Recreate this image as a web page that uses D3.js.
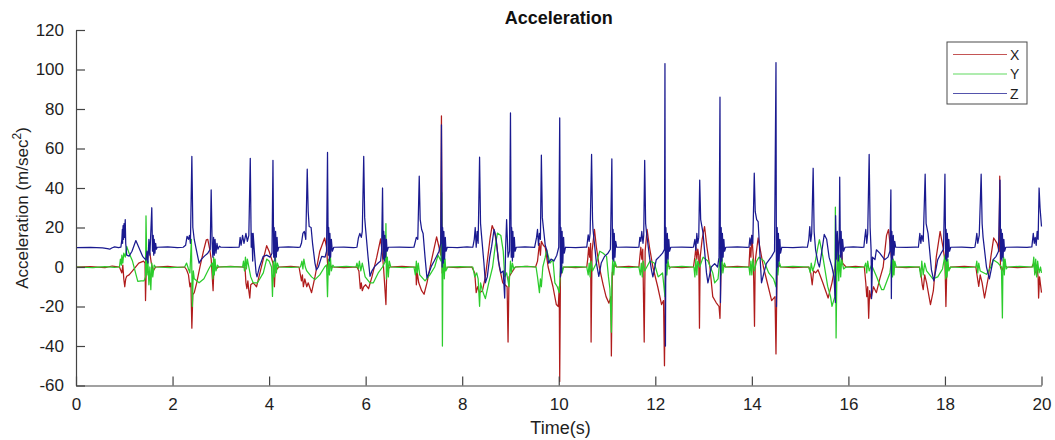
<!DOCTYPE html>
<html>
<head>
<meta charset="utf-8">
<script src="https://cdn.jsdelivr.net/npm/d3@7"></script>
<style>
    body { margin: 0; background: #fff; }
    #chart { width: 1055px; height: 440px; }
    text { font-family: "Liberation Sans", Arial, Helvetica, sans-serif; }
</style>
</head>
<body>
<div id="chart"></div>
<script>
// Acceleration signals (time in s, value in m/sec^2)
const accX = [
    [0,0],[0.3,0.2],[0.6,-0.3],[0.75,0.5],[0.9,0],
    [0.95,-3],[0.97,1],[0.99,-6],[1.01,-10],[1.03,-6],[1.05,-4.7],[1.1,-4],[1.17,-2],[1.3,2],[1.4,3],[1.43,2],[1.44,-17],[1.46,4],[1.5,8],[1.53,7],[1.56,2],[1.6,-2],[1.65,0],
    [1.9,0.3],[2.1,-0.2],[2.25,0],
    [2.29,-1.4],[2.33,-4],[2.36,-10],[2.38,-8],[2.4,-31],[2.42,-14],[2.45,-13],[2.5,-8],[2.57,0.3],[2.64,8],[2.7,13.8],[2.73,14],[2.77,9],[2.8,4],[2.84,-12],[2.86,2],[2.9,-1],[2.95,0],
    [3.2,0.3],[3.45,0],
    [3.5,0],[3.52,-8],[3.54,-11],[3.56,-7],[3.58,-12],[3.6,-15.7],[3.62,-9],[3.67,-8],[3.74,-10],[3.81,-3],[3.88,4],[3.95,10.8],[4.0,8],[4.04,5],[4.08,2],[4.11,-10],[4.13,1],[4.17,-1],[4.2,0],
    [4.45,0.3],[4.62,0],
    [4.67,-7],[4.69,-4],[4.71,-10],[4.74,-6],[4.78,-10],[4.81,-8],[4.88,-13],[4.95,-5],[5.05,8],[5.15,14.7],[5.19,10],[5.21,2],[5.23,-3],[5.26,1],[5.3,0],
    [5.55,-0.3],[5.82,0],
    [5.86,-2],[5.89,-11],[5.91,-8],[5.93,-12],[5.96,-10],[6.0,-9],[6.06,-11],[6.13,-5],[6.23,5],[6.31,14.2],[6.34,8],[6.37,0],[6.42,-19],[6.44,1],[6.47,-1],[6.5,0],
    [6.75,0.3],[7.0,0],
    [7.04,0],[7.05,-9],[7.07,-3],[7.1,-8],[7.16,-12],[7.21,-13.8],[7.27,-8],[7.36,3],[7.47,15.2],[7.52,10],[7.555,6],[7.57,76.5],[7.585,-3],[7.6,2],[7.65,0],
    [7.9,-0.3],[8.2,0],
    [8.26,-3],[8.29,-13],[8.32,-10],[8.36,-13],[8.42,-12],[8.48,-5],[8.58,15],[8.62,21],[8.67,18],[8.71,12],[8.77,0],[8.84,-8],[8.93,-10],[8.95,-38],[8.97,-5],[9.02,-3],[9.1,0],
    [9.35,0.3],[9.52,0],
    [9.56,3],[9.6,12],[9.62,6],[9.64,13],[9.68,11],[9.72,10],[9.78,0],[9.88,-10],[9.95,-19],[9.99,-20],[10.01,-10],[10.02,-58],[10.035,-5],[10.06,-2],[10.1,0],
    [10.35,-0.3],[10.58,0],
    [10.6,4],[10.62,10],[10.64,5],[10.66,12],[10.67,-38],[10.69,8],[10.74,19],[10.78,10],[10.84,0],[10.92,-9],[10.98,-15],[11.04,-18.3],[11.08,-15],[11.09,-45],[11.11,-3],[11.15,1],[11.2,0],
    [11.45,0.3],[11.66,0],
    [11.68,5],[11.7,10],[11.72,4],[11.74,9],[11.77,-38],[11.79,8],[11.83,19],[11.88,10],[11.95,0],[12.05,-10],[12.13,-19],[12.17,-17],[12.19,-50],[12.21,-5],[12.25,1],[12.3,0],
    [12.55,-0.3],[12.79,0],
    [12.82,5],[12.84,10],[12.86,4],[12.88,9],[12.9,6],[12.915,-31],[12.93,5],[12.97,14],[13.02,20.5],[13.07,10],[13.13,0],[13.19,-15],[13.26,-18],[13.32,-20],[13.34,-26],[13.36,-3],[13.4,1],[13.45,0],
    [13.7,0.3],[13.94,0],
    [13.96,10],[13.98,5],[14.0,16],[14.03,5],[14.055,-30],[14.07,3],[14.13,14.7],[14.18,8],[14.24,0],[14.34,-10],[14.41,-17],[14.48,-15],[14.5,-44],[14.52,-4],[14.56,1],[14.6,0],
    [14.85,-0.3],[15.18,0],
    [15.22,-3],[15.25,-9],[15.28,-2],[15.32,-3],[15.37,-1.4],[15.47,-8],[15.58,-15.7],[15.66,-8],[15.72,0],[15.78,10],[15.83,15],[15.88,2],[15.95,0],
    [16.15,0.3],[16.33,0],
    [16.36,-8],[16.38,-15],[16.4,-10],[16.42,-26],[16.44,-12],[16.47,-16],[16.52,-10],[16.58,-13],[16.65,-6],[16.72,0],[16.79,16],[16.83,18.9],[16.87,10],[16.89,5],[16.92,1],[16.96,0],
    [17.2,-0.3],[17.47,0],
    [17.5,-3],[17.53,-9],[17.55,-11.5],[17.58,-4],[17.62,-8],[17.7,-19],[17.76,-12],[17.82,5],[17.9,18],[17.96,10],[18.0,3],[18.02,-20],[18.04,0],[18.08,-1],[18.12,0],
    [18.4,0.3],[18.64,0],
    [18.67,-5],[18.7,-9.8],[18.73,-4],[18.77,-8],[18.82,-15.7],[18.9,-5],[18.95,5],[19.01,14.7],[19.08,12],[19.12,8],[19.135,46],[19.15,0],[19.18,-2],[19.22,1],[19.28,0],
    [19.5,-0.3],[19.8,0],
    [19.84,2],[19.87,-3],[19.9,1],[19.93,-5],[19.94,-15.7],[19.96,-5],[19.98,-9],[20.0,-13]
];

const accY = [
    [0,0],[0.35,-0.3],[0.6,0.2],[0.8,-0.2],[0.9,0],
    [0.92,4],[0.94,1],[0.95,6],[0.97,2],[0.99,7],[1.02,5],[1.05,10.4],[1.1,7],[1.17,3],[1.28,-7.3],[1.35,-7],[1.41,-7],[1.44,-5],[1.45,25.9],[1.47,-4],[1.49,3],[1.51,-9],[1.53,0],[1.55,-11.5],[1.57,2],[1.59,-5],[1.62,1],[1.65,0],
    [1.95,-0.3],[2.25,0],
    [2.29,2],[2.33,-1],[2.36,-3],[2.39,14],[2.41,-20],[2.43,-2],[2.45,-6],[2.55,-8],[2.65,-6],[2.75,-1],[2.82,2],[2.835,-6],[2.85,5],[2.865,-4],[2.88,4],[2.9,-2],[2.93,1],[2.96,0],
    [3.2,0.2],[3.45,0],
    [3.47,3],[3.49,-2],[3.51,5],[3.53,-1],[3.55,4],[3.58,0],[3.62,-5],[3.67,-8],[3.76,-8],[3.88,-3],[3.95,4],[4.0,3],[4.05,0],[4.07,-14.9],[4.09,3],[4.11,-5],[4.13,5],[4.15,-3],[4.17,2],[4.2,0],
    [4.45,-0.2],[4.65,0],
    [4.68,3],[4.7,-1],[4.72,4],[4.75,0],[4.78,-2],[4.88,-5],[4.95,-6.4],[5.05,-4],[5.15,0],[5.19,1],[5.21,-15],[5.23,4],[5.25,-4],[5.27,5],[5.29,-2],[5.32,1],[5.35,0],
    [5.6,0.3],[5.8,0],
    [5.82,2],[5.85,-1],[5.87,3],[5.9,-2],[5.93,2],[5.99,-5],[6.09,-8],[6.16,-8],[6.26,-3],[6.35,0],[6.41,3],[6.42,22],[6.43,-6],[6.45,5],[6.47,-5],[6.49,3],[6.52,0],
    [6.8,-0.3],[7.0,0],
    [7.03,-4],[7.05,3],[7.07,-3],[7.09,2],[7.12,-4],[7.23,-7],[7.33,-4],[7.43,0],[7.5,6],[7.56,3],[7.575,37.7],[7.59,-40],[7.6,-3],[7.615,8],[7.63,-6],[7.645,4],[7.66,-2],[7.7,0],
    [7.95,0.2],[8.22,0],
    [8.26,-5],[8.3,-3],[8.33,-6],[8.36,-19.9],[8.38,-8],[8.42,-12],[8.48,-16],[8.55,-8],[8.63,0],[8.68,10],[8.73,17.2],[8.8,16],[8.85,8],[8.88,-5],[8.92,-3],[8.97,-10],[9.0,3],[9.02,-3],[9.04,2],[9.07,-1],[9.1,0],
    [9.3,0.3],[9.53,0],
    [9.56,-5],[9.6,-13],[9.62,-6],[9.64,-10],[9.67,0],[9.72,5],[9.75,8.7],[9.82,2],[9.88,3.7],[9.92,-8],[9.97,-10],[10.01,-13],[10.03,-3],[10.05,4],[10.07,-3],[10.1,0],
    [10.35,0.2],[10.58,0],
    [10.61,-4],[10.63,2],[10.65,-5],[10.67,3],[10.7,-2],[10.78,2],[10.85,8],[10.92,7],[10.99,5.4],[11.03,-5],[11.06,-11],[11.09,-33],[11.1,-5],[11.12,4],[11.14,-4],[11.16,3],[11.2,0],
    [11.45,-0.3],[11.66,0],
    [11.69,-4],[11.71,2],[11.73,-5],[11.75,3],[11.78,-2],[11.89,3],[11.98,2],[12.06,-5],[12.15,-3],[12.2,-15],[12.22,3],[12.24,-4],[12.26,4],[12.29,-1],[12.32,0],
    [12.55,0.3],[12.8,0],
    [12.82,-5],[12.84,4],[12.86,-4],[12.88,3],[12.92,0],[12.99,5],[13.09,3],[13.19,-3],[13.23,-8],[13.3,-6],[13.34,5],[13.36,-4],[13.38,5],[13.4,-3],[13.43,2],[13.46,0],
    [13.7,-0.2],[13.94,0],
    [13.96,-4],[13.98,3],[14.0,-4],[14.02,4],[14.05,-2],[14.1,3],[14.15,5],[14.25,3],[14.35,-3],[14.45,-6],[14.5,-10],[14.52,4],[14.54,-4],[14.56,3],[14.6,0],
    [14.85,0.3],[15.18,0],
    [15.21,-3],[15.23,2],[15.26,-2],[15.3,1],[15.37,10.4],[15.4,13.8],[15.47,5.4],[15.57,-9.7],[15.63,-15],[15.66,-19.9],[15.72,-15],[15.73,30.3],[15.745,-35.9],[15.76,-5],[15.78,8],[15.8,-7],[15.82,6],[15.84,-5],[15.86,4],[15.9,-1],[15.95,0],
    [16.15,-0.3],[16.33,0],
    [16.36,2],[16.38,-3],[16.4,3],[16.43,-2],[16.48,1],[16.58,-4.7],[16.69,-11.5],[16.73,-11.5],[16.86,-3],[16.9,5],[16.915,-5],[16.93,4],[16.945,-4],[16.96,3],[16.99,0],
    [17.25,0.2],[17.47,0],
    [17.5,-5],[17.52,3],[17.55,-4],[17.58,2],[17.62,-2],[17.75,-6],[17.85,-5],[17.95,-1],[18.0,6],[18.015,-6],[18.03,5],[18.045,-5],[18.06,4],[18.08,-2],[18.12,0],
    [18.4,-0.3],[18.64,0],
    [18.66,3],[18.68,-3],[18.7,2],[18.73,-2],[18.86,-3.7],[18.95,0],[19.0,3.7],[19.1,2],[19.17,0],[19.19,-25.8],[19.2,-3],[19.215,5],[19.23,-4],[19.245,4],[19.27,-1],[19.3,0],
    [19.55,0.3],[19.82,0],
    [19.84,5],[19.86,-4],[19.88,4],[19.9,-5],[19.92,3],[19.95,-3],[19.98,0],[20.0,-3]
];

const accZ = [
    [0,9.8],[0.3,9.9],[0.55,9.7],[0.65,9.3],[0.7,9.0],[0.74,9.6],[0.8,10.2],[0.88,9.8],[0.93,10.1],
    [0.95,14],[0.96,19],[0.965,12],[0.975,21],[0.985,14],[0.995,22],[1.005,15],[1.02,24],[1.03,12],[1.05,6],[1.1,5.5],[1.16,8],[1.24,13.4],[1.3,10],[1.38,5.4],[1.45,3.5],[1.47,8],[1.49,2],[1.51,14],[1.53,6],[1.55,18],[1.57,30],[1.585,8],[1.6,16],[1.61,6],[1.62,14],[1.635,7],[1.65,12],[1.665,9],[1.68,10],
    [1.9,10.2],[2.1,9.8],[2.22,10],
    [2.27,11],[2.3,15.5],[2.33,14],[2.35,16],[2.37,12],[2.4,56],[2.42,20],[2.45,13.8],[2.49,9],[2.55,2],[2.6,4],[2.66,5.5],[2.73,7],[2.78,9],[2.8,39],[2.82,12],[2.835,5],[2.85,15],[2.865,6],[2.88,14],[2.9,7],[2.92,12],[2.94,9],[2.97,10.5],[3.0,10],
    [3.2,9.9],[3.38,10.1],
    [3.4,15],[3.42,11],[3.45,16],[3.48,12],[3.52,17],[3.55,13],[3.58,16],[3.61,55],[3.63,10],[3.645,17],[3.66,3],[3.67,17],[3.7,6],[3.73,-3],[3.75,-5],[3.8,0],[3.88,5.4],[3.95,6],[4.02,5],[4.06,7],[4.08,54],[4.095,5],[4.105,20],[4.12,3],[4.135,18],[4.15,5],[4.165,15],[4.18,8],[4.2,10],
    [4.4,10.2],[4.6,9.9],[4.64,10],
    [4.67,12],[4.7,17],[4.73,18],[4.76,14],[4.79,49.5],[4.81,28],[4.83,20.5],[4.87,20],[4.9,12],[4.95,2],[4.98,-1.5],[5.02,0],[5.09,5.4],[5.16,5],[5.19,8],[5.21,58],[5.225,6],[5.235,20],[5.25,3],[5.26,17],[5.275,5],[5.29,14],[5.31,8],[5.34,10],
    [5.55,10.1],[5.75,9.8],[5.82,10],
    [5.85,14.7],[5.88,17],[5.91,15],[5.93,18],[5.96,56],[5.98,25],[6.0,18.9],[6.05,5],[6.09,-4.7],[6.13,-2],[6.19,0.3],[6.26,2],[6.31,3],[6.33,8],[6.35,40],[6.365,4],[6.375,18],[6.39,3],[6.4,16],[6.415,5],[6.43,14],[6.445,8],[6.47,10],
    [6.7,10.1],[6.9,9.9],[7.0,10],
    [7.03,13],[7.05,15],[7.08,14],[7.11,46],[7.13,24],[7.16,19],[7.19,17],[7.23,5],[7.27,-5.6],[7.31,-3],[7.36,0.3],[7.42,3],[7.47,5.4],[7.52,8],[7.555,12],[7.57,72],[7.585,0],[7.595,20],[7.61,2],[7.62,18],[7.635,4],[7.65,15],[7.665,8],[7.69,10],
    [7.9,9.8],[8.1,10.2],[8.22,10],
    [8.25,14],[8.27,20],[8.29,10],[8.31,18],[8.33,12],[8.36,55.6],[8.38,22],[8.4,16],[8.45,2],[8.48,-8],[8.52,-5],[8.57,5],[8.61,10.4],[8.66,19],[8.7,15],[8.75,3],[8.8,-3],[8.85,-2],[8.88,-15.7],[8.9,10],[8.92,24],[8.95,5],[8.98,8],[9.0,78],[9.015,5],[9.025,20],[9.04,3],[9.05,18],[9.065,5],[9.08,15],[9.095,8],[9.12,10],
    [9.3,10.2],[9.5,9.9],
    [9.54,15],[9.56,19],[9.58,11],[9.6,17],[9.62,14],[9.64,56.6],[9.66,25],[9.69,18],[9.72,11],[9.75,8.7],[9.79,2],[9.84,4],[9.9,3],[9.96,6],[10.0,10],[10.02,75.5],[10.035,-5],[10.045,20],[10.06,-3],[10.07,18],[10.085,2],[10.1,15],[10.115,7],[10.14,10],
    [10.35,9.8],[10.55,10.1],[10.58,10],
    [10.61,16.3],[10.63,13],[10.65,17],[10.68,57],[10.7,24],[10.71,18.9],[10.78,2],[10.83,-4.7],[10.88,2],[10.95,5.4],[11.02,7],[11.07,9],[11.1,54.7],[11.115,4],[11.125,19],[11.14,3],[11.15,17],[11.165,5],[11.18,13],[11.2,10],
    [11.4,10.1],[11.6,9.9],[11.66,10],
    [11.68,15],[11.7,13],[11.72,18],[11.745,12],[11.76,16],[11.78,54],[11.8,22],[11.82,17],[11.88,5],[11.92,-1.4],[11.95,-5],[12.02,3.7],[12.09,5.4],[12.15,7],[12.19,9],[12.2,103],[12.21,-40],[12.22,20],[12.235,2],[12.25,17],[12.265,4],[12.28,14],[12.295,8],[12.32,10],
    [12.55,10.1],[12.75,9.9],[12.79,10],
    [12.82,14],[12.84,8.5],[12.86,17],[12.88,12],[12.9,15],[12.92,44],[12.94,24],[12.99,17],[13.06,-3],[13.09,-8],[13.16,0],[13.23,1.7],[13.29,0],[13.32,5],[13.34,86],[13.35,-18],[13.365,20],[13.38,3],[13.39,17],[13.405,5],[13.42,14],[13.435,8],[13.46,10],
    [13.7,10.2],[13.9,9.9],[13.94,10],
    [13.96,14.7],[13.98,11],[14.0,16],[14.02,12],[14.05,47.5],[14.07,28],[14.1,24],[14.13,23],[14.17,5],[14.2,-8],[14.25,-3],[14.3,1.7],[14.41,5.4],[14.47,8],[14.5,103.5],[14.51,-20],[14.525,20],[14.54,0],[14.55,17],[14.565,3],[14.58,14],[14.595,7],[14.62,10],
    [14.85,9.8],[15.05,10.1],[15.15,10],
    [15.18,14],[15.2,20.5],[15.22,13],[15.24,17],[15.27,50],[15.29,18],[15.32,8.7],[15.37,2],[15.4,0],[15.45,8],[15.5,16.5],[15.55,14],[15.6,5],[15.66,0],[15.7,-4.7],[15.73,-18],[15.735,26],[15.75,4],[15.77,18],[15.79,3],[15.81,15],[15.82,45.5],[15.835,5],[15.85,18],[15.865,4],[15.88,14],[15.9,8],[15.93,10],
    [16.1,10.2],[16.28,9.9],[16.32,10],
    [16.34,15],[16.36,19],[16.38,12],[16.4,17],[16.43,57],[16.45,20],[16.47,8.7],[16.48,-16],[16.5,5],[16.55,3.7],[16.58,8.7],[16.65,7],[16.75,3.7],[16.82,5],[16.86,8],[16.88,39],[16.89,-16],[16.9,18],[16.915,4],[16.93,16],[16.945,6],[16.96,13],[16.98,10],
    [17.2,9.9],[17.4,10.1],[17.45,10],
    [17.48,17],[17.5,12],[17.52,16],[17.55,13],[17.59,47],[17.61,22],[17.65,17],[17.72,-1.4],[17.77,-7],[17.85,3.7],[17.92,7],[17.97,9],[18.0,47],[18.015,4],[18.025,19],[18.04,3],[18.05,17],[18.065,5],[18.08,14],[18.095,8],[18.12,10],
    [18.35,10.1],[18.55,9.8],[18.62,10],
    [18.64,13],[18.66,17],[18.68,12],[18.71,16],[18.75,47],[18.77,22],[18.79,15],[18.86,0],[18.92,-6],[19.0,3.7],[19.06,5.4],[19.11,8],[19.14,44],[19.155,4],[19.165,19],[19.18,3],[19.19,17],[19.205,5],[19.22,14],[19.235,8],[19.26,10],
    [19.5,10.1],[19.7,9.9],[19.8,10.2],
    [19.83,17],[19.85,12],[19.87,15],[19.89,11],[19.91,18],[19.93,14],[19.95,40],[19.97,30],[20.0,20.5]
];

const seriesNames = ["X", "Y", "Z"];
const seriesColors = ["#b01c1c", "#2ccc2c", "#1a1a90"];
const xTicks = [0, 2, 4, 6, 8, 10, 12, 14, 16, 18, 20];
const yTicks = [-60, -40, -20, 0, 20, 40, 60, 80, 100, 120];

function createChart() {
    const W = 1055, H = 440;
    // plot box in pixels (axes only on left and bottom)
    const left = 76, right = 1041.5, top = 30, bottom = 385.5;

    const svg = d3.select("#chart")
        .append("svg")
        .attr("width", W)
        .attr("height", H);

    const x = d3.scaleLinear().domain([0, 20]).range([left, right]);
    const y = d3.scaleLinear().domain([-60, 120]).range([bottom, top]);

    // Lines, drawn X then Y then Z so Z sits on top
    const line = d3.line()
        .x(d => x(d[0]))
        .y(d => y(d[1]));

    [accX, accY, accZ].forEach((data, i) => {
        svg.append("path")
            .datum(data)
            .attr("fill", "none")
            .attr("stroke", seriesColors[i])
            .attr("stroke-width", 1.25)
            .attr("stroke-linejoin", "round")
            .attr("d", line);
    });

    // Axes with inward ticks, plain hyphen for negatives
    const fmt = d => String(d);
    const xAxis = svg.append("g")
        .attr("transform", `translate(0,${bottom})`)
        .call(d3.axisBottom(x).tickValues(xTicks).tickFormat(fmt).tickSizeInner(-9).tickSizeOuter(0).tickPadding(12));

    const yAxis = svg.append("g")
        .attr("transform", `translate(${left},0)`)
        .call(d3.axisLeft(y).tickValues(yTicks).tickFormat(fmt).tickSizeInner(-9).tickSizeOuter(0).tickPadding(12));

    [xAxis, yAxis].forEach(g => {
        g.select(".domain").attr("stroke", "#444").attr("stroke-width", 1.2);
        g.selectAll(".tick line").attr("stroke", "#444").attr("stroke-width", 1.2);
        g.selectAll(".tick text")
            .attr("fill", "#1e1e1e")
            .style("font-size", "17px")
            .style("font-family", "'Liberation Sans', Arial, sans-serif");
    });

    // Title
    svg.append("text")
        .attr("x", (left + right) / 2)
        .attr("y", 24)
        .attr("text-anchor", "middle")
        .style("font-size", "18px")
        .style("font-weight", "bold")
        .attr("fill", "#111")
        .text("Acceleration");

    // X axis label
    svg.append("text")
        .attr("x", 560.5)
        .attr("y", 434)
        .attr("text-anchor", "middle")
        .style("font-size", "18px")
        .attr("fill", "#1e1e1e")
        .text("Time(s)");

    // Y axis label with superscript
    const yLabel = svg.append("text")
        .attr("transform", "translate(28,208) rotate(-90)")
        .attr("text-anchor", "middle")
        .style("font-size", "17px")
        .attr("fill", "#1e1e1e");
    yLabel.append("tspan").text("Acceleration (m/sec");
    yLabel.append("tspan").attr("dy", -7).style("font-size", "12px").text("2");
    yLabel.append("tspan").attr("dy", 7).text(")");

    // Legend
    const legend = svg.append("g").attr("class", "legend");
    legend.append("rect")
        .attr("x", 947)
        .attr("y", 42)
        .attr("width", 80)
        .attr("height", 62)
        .attr("fill", "#fff")
        .attr("stroke", "#4a4a4a");

    seriesNames.forEach((name, i) => {
        const cy = 54.5 + i * 19.5;
        legend.append("line")
            .attr("x1", 953)
            .attr("x2", 1007)
            .attr("y1", cy)
            .attr("y2", cy)
            .attr("stroke", seriesColors[i])
            .attr("stroke-opacity", 0.75)
            .attr("stroke-width", 1.2);
        legend.append("text")
            .attr("x", 1010)
            .attr("y", cy + 5)
            .style("font-size", "14px")
            .attr("fill", "#1e1e1e")
            .text(name);
    });
}

createChart();
</script>
</body>
</html>
